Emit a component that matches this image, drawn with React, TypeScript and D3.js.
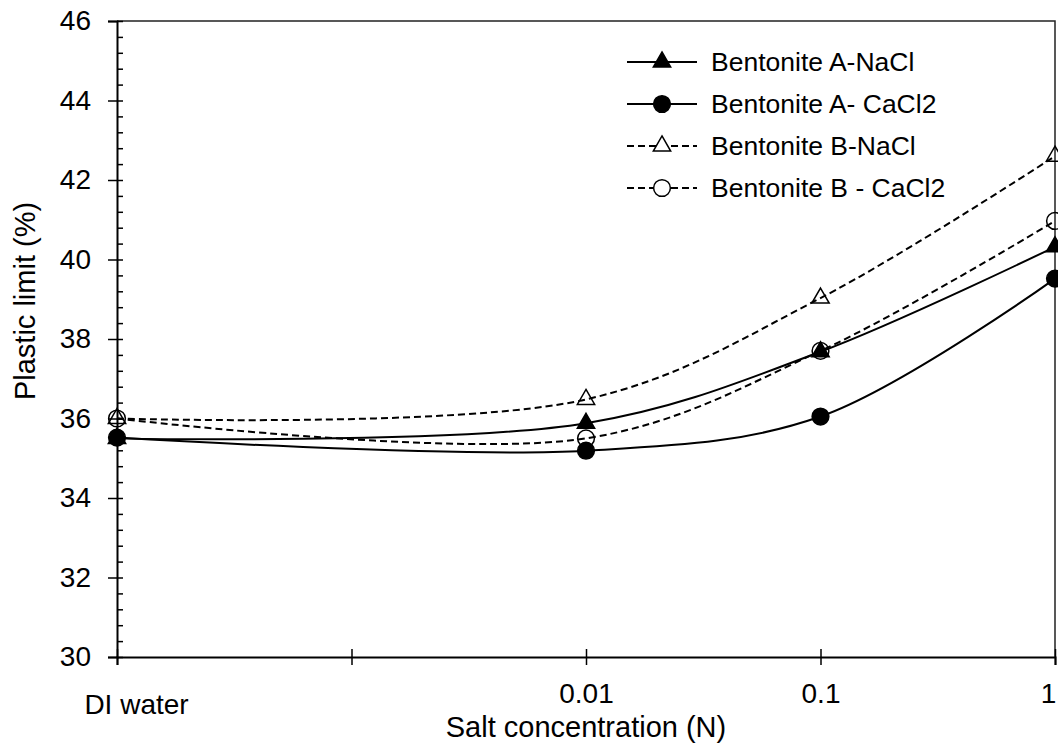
import React, { useEffect, useRef } from "react";
import * as d3 from "d3";

// categories along the x axis (index 1 is an empty slot)
const categories = ["DI water", "", "0.01", "0.1", "1"];
const pointIndex = [0, 2, 3, 4];

const aNaCl = [35.5, 35.88, 37.68, 40.32];
const aCaCl2 = [35.52, 35.19, 36.05, 39.52];
const bNaCl = [36.0, 36.48, 39.03, 42.6];
const bCaCl2 = [36.0, 35.5, 37.7, 40.97];

const seriesNames = ["Bentonite A-NaCl", "Bentonite A- CaCl2", "Bentonite B-NaCl", "Bentonite B - CaCl2"];
const yMajorTicks = [30, 32, 34, 36, 38, 40, 42, 44, 46];

const FONT = "'Liberation Sans', Arial, sans-serif";

const App = () => {
  const svgRef = useRef<SVGSVGElement>(null);

  useEffect(() => {
    document.body.style.margin = "0";
    const svg = d3.select(svgRef.current);
    svg.selectAll("*").remove();

    const width = 1058, height = 744;
    const margin = { top: 21, right: 3, bottom: 87, left: 117 };

    const x = d3.scaleLinear()
      .domain([0, categories.length - 1])
      .range([margin.left, width - margin.right]);

    const y = d3.scaleLinear()
      .domain([30, 46])
      .range([height - margin.bottom, margin.top]);

    const series = [
      { name: seriesNames[0], values: aNaCl, dashed: false, shape: d3.symbolTriangle, filled: true },
      { name: seriesNames[1], values: aCaCl2, dashed: false, shape: d3.symbolCircle, filled: true },
      { name: seriesNames[2], values: bNaCl, dashed: true, shape: d3.symbolTriangle, filled: false },
      { name: seriesNames[3], values: bCaCl2, dashed: true, shape: d3.symbolCircle, filled: false },
    ];
    const symSize = (s) => (s === d3.symbolTriangle ? 130 : 220);

    // plot area frame (top + right)
    svg.append("path")
      .attr("d", `M${margin.left},${y(46)}H${x(4)}V${y(30)}`)
      .attr("fill", "none")
      .attr("stroke", "#222")
      .attr("stroke-width", 1.5);

    // y axis: outward majors with labels, inward minors
    const minorTicks = d3.range(30, 46.01, 0.4).map(v => +v.toFixed(1));
    const yAxis = svg.append("g")
      .attr("transform", `translate(${margin.left},0)`)
      .call(d3.axisLeft(y).tickValues(yMajorTicks).tickSize(9).tickPadding(17).tickFormat(d3.format("d")));
    yAxis.select(".domain").attr("stroke-width", 2);
    yAxis.selectAll(".tick line").attr("stroke-width", 1.5);
    const yInner = svg.append("g")
      .attr("transform", `translate(${margin.left},0)`)
      .call(d3.axisRight(y).tickValues(minorTicks).tickSize(6).tickFormat(() => ""));
    yInner.select(".domain").remove();
    yInner.selectAll(".tick line").attr("stroke-width", 1.5);

    // x axis: ticks crossing the axis line
    const xAxis = svg.append("g")
      .attr("transform", `translate(0,${y(30)})`)
      .call(d3.axisBottom(x).tickValues(d3.range(categories.length)).tickSize(8).tickPadding(18)
        .tickFormat(i => categories[i]));
    xAxis.select(".domain").attr("stroke-width", 2);
    xAxis.selectAll(".tick line").attr("stroke-width", 1.5);
    xAxis.selectAll(".tick text").filter((d) => d === 0).attr("dx", 19).attr("dy", "1.1em");
    xAxis.selectAll(".tick text").filter((d) => d === 4).attr("dx", -7);
    const xUp = svg.append("g")
      .attr("transform", `translate(0,${y(30)})`)
      .call(d3.axisTop(x).tickValues(d3.range(categories.length)).tickSize(8).tickFormat(() => ""));
    xUp.select(".domain").remove();
    xUp.selectAll(".tick line").attr("stroke-width", 1.5);

    svg.selectAll(".tick text")
      .attr("font-family", FONT)
      .attr("font-size", 28)
      .attr("fill", "#000");

    // axis titles
    svg.append("text")
      .attr("x", x(2))
      .attr("y", 737)
      .attr("text-anchor", "middle")
      .attr("font-family", FONT)
      .attr("font-size", 29)
      .text("Salt concentration (N)");

    svg.append("text")
      .attr("transform", "translate(35,301) rotate(-90)")
      .attr("text-anchor", "middle")
      .attr("font-family", FONT)
      .attr("font-size", 29)
      .text("Plastic limit (%)");

    // lines
    const line = d3.line<number>()
      .x((d, i) => x(pointIndex[i]))
      .y(d => y(d))
      .curve(d3.curveCatmullRom.alpha(0.5));

    series.forEach(s => {
      svg.append("path")
        .datum(s.values)
        .attr("d", line)
        .attr("fill", "none")
        .attr("stroke", "#000")
        .attr("stroke-width", 2)
        .attr("stroke-dasharray", s.dashed ? "7,4" : null);
    });

    series.forEach(s => {
      svg.append("g")
        .selectAll("path")
        .data(s.values)
        .join("path")
        .attr("transform", (d, i) => `translate(${x(pointIndex[i])},${y(d)})`)
        .attr("d", d3.symbol().type(s.shape).size(symSize(s.shape)))
        .attr("fill", s.filled ? "#000" : "none")
        .attr("stroke", "#000")
        .attr("stroke-width", 1.5);
    });

    // legend
    const legend = svg.append("g").attr("transform", "translate(627,62)");
    series.forEach((s, i) => {
      const g = legend.append("g").attr("transform", `translate(0,${i * 42})`);
      g.append("line")
        .attr("x1", 0).attr("x2", 70)
        .attr("stroke", "#000")
        .attr("stroke-width", 2)
        .attr("stroke-dasharray", s.dashed ? "7,4" : null);
      g.append("path")
        .attr("transform", "translate(35,0)")
        .attr("d", d3.symbol().type(s.shape).size(symSize(s.shape)))
        .attr("fill", s.filled ? "#000" : "#fff")
        .attr("stroke", "#000")
        .attr("stroke-width", 1.5);
      g.append("text")
        .attr("x", 84)
        .attr("y", 9)
        .attr("font-family", FONT)
        .attr("font-size", 26.5)
        .text(s.name);
    });
  }, []);

  return <svg ref={svgRef} width={1058} height={744} style={{ display: "block", background: "#fff" }}></svg>;
};

export default App;
